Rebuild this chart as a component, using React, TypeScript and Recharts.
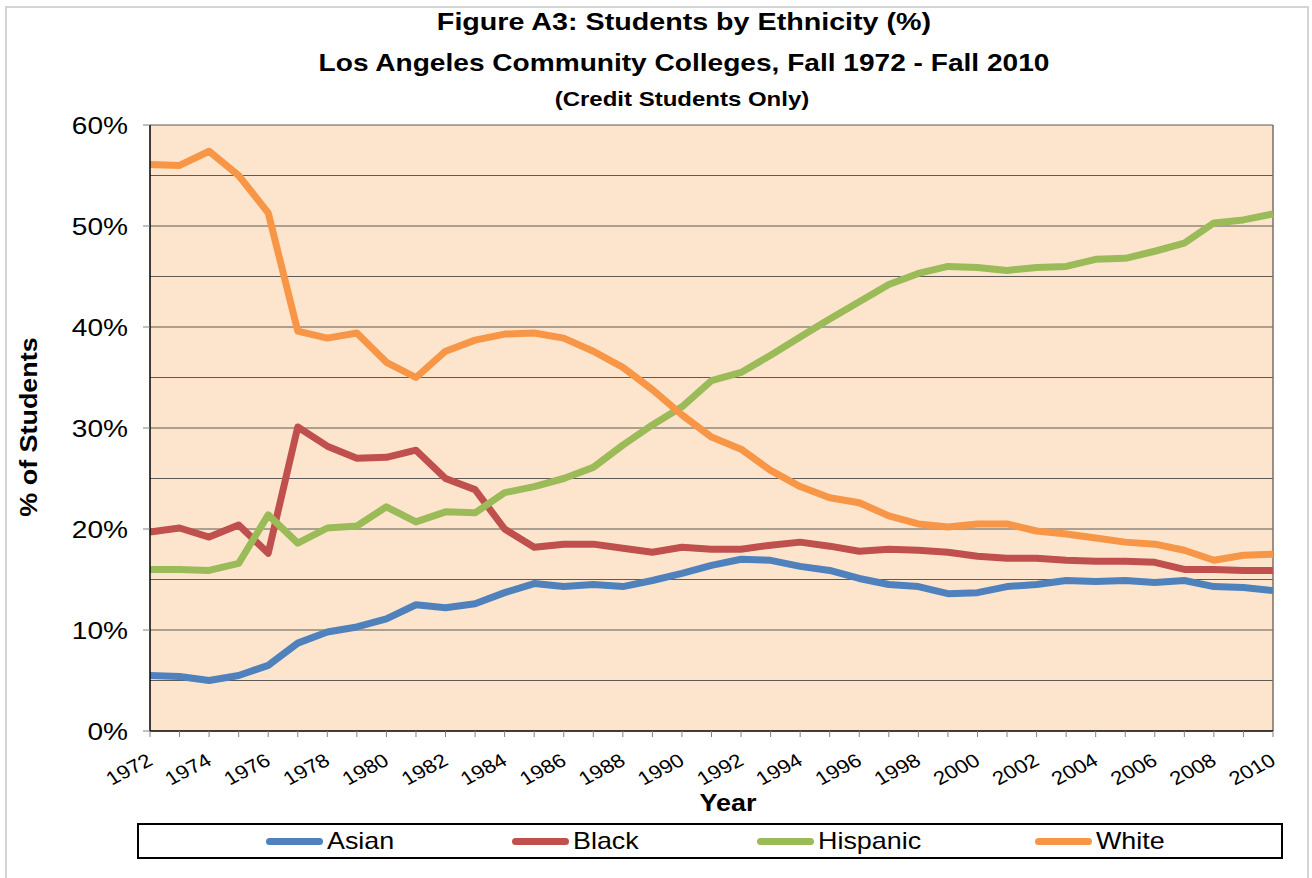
import React from 'react';
import { LineChart, Line, XAxis, YAxis, CartesianGrid, Legend, ReferenceLine } from 'recharts';

const years = ['1972','1973','1974','1975','1976','1977','1978','1979','1980','1981','1982','1983','1984','1985','1986','1987','1988','1989','1990','1991','1992','1993','1994','1995','1996','1997','1998','1999','2000','2001','2002','2003','2004','2005','2006','2007','2008','2009','2010'];
const asian = [5.5,5.4,5.0,5.5,6.5,8.7,9.8,10.3,11.1,12.5,12.2,12.6,13.7,14.6,14.3,14.5,14.3,14.9,15.6,16.4,17.0,16.9,16.3,15.9,15.1,14.5,14.3,13.6,13.7,14.3,14.5,14.9,14.8,14.9,14.7,14.9,14.3,14.2,13.9];
const black = [19.7,20.1,19.2,20.4,17.6,30.1,28.2,27.0,27.1,27.8,25.0,23.9,20.0,18.2,18.5,18.5,18.1,17.7,18.2,18.0,18.0,18.4,18.7,18.3,17.8,18.0,17.9,17.7,17.3,17.1,17.1,16.9,16.8,16.8,16.7,16.0,16.0,15.9,15.9];
const hispanic = [16.0,16.0,15.9,16.6,21.4,18.6,20.1,20.3,22.2,20.7,21.7,21.6,23.6,24.2,25.0,26.1,28.3,30.3,32.1,34.7,35.5,37.2,39.0,40.8,42.5,44.2,45.3,46.0,45.9,45.6,45.9,46.0,46.7,46.8,47.5,48.3,50.3,50.6,51.2];
const white = [56.1,56.0,57.4,55.0,51.3,39.6,38.9,39.4,36.5,35.0,37.6,38.7,39.3,39.4,38.9,37.6,36.0,33.8,31.3,29.1,27.9,25.8,24.2,23.1,22.6,21.3,20.5,20.2,20.5,20.5,19.8,19.5,19.1,18.7,18.5,17.9,16.9,17.4,17.5];
const yTicks = [0, 10, 20, 30, 40, 50, 60];
const gridValues = [5, 10, 15, 20, 25, 30, 35, 40, 45, 50, 55, 60];

const seriesDefs = [
  { key: 'Asian', color: '#4F81BD' },
  { key: 'Black', color: '#C0504D' },
  { key: 'Hispanic', color: '#9BBB59' },
  { key: 'White', color: '#F79646' },
];

const data = years.map((y, i) => ({
  year: y,
  Asian: asian[i],
  Black: black[i],
  Hispanic: hispanic[i],
  White: white[i],
}));

const FONT = '"Liberation Sans", Arial, Helvetica, sans-serif';
const SX = 1.17;

const XTick = (props: any) => {
  const { x, y, payload } = props;
  const yr = Number(payload.value);
  if (yr % 2 !== 0) return <g />;
  const ax = x + 4;
  const ay = y + 27;
  return (
    <text transform={`translate(${ax} ${ay}) scale(${SX} 1) rotate(-31)`} textAnchor="end" fontSize={19} fontFamily={FONT} fill="#000">
      {payload.value}
    </text>
  );
};

const YTick = (props: any) => {
  const { x, y, payload } = props;
  return (
    <text transform={`translate(${x} ${y}) scale(${SX} 1)`} textAnchor="end" dy="0.36em" fontSize={24} fontFamily={FONT} fill="#000">
      {`${payload.value}%`}
    </text>
  );
};

const renderLegend = () => (
  <div style={{
    width: '100%', height: '100%', boxSizing: 'border-box', border: '2px solid #000', paddingLeft: 12,
    display: 'flex', alignItems: 'center', justifyContent: 'center', gap: 117, fontFamily: FONT, background: '#fff',
  }}>
    {seriesDefs.map((s) => (
      <div key={s.key} style={{ display: 'flex', alignItems: 'center' }}>
        <div style={{ width: 57, height: 7, borderRadius: 4, background: s.color, marginRight: 4 }} />
        <span style={{ fontSize: 24, color: '#000', lineHeight: '24px', display: 'inline-block', transform: 'scaleX(1.12)', transformOrigin: 'left center', marginRight: 8 }}>{s.key}</span>
      </div>
    ))}
  </div>
);

const titleBase: React.CSSProperties = {
  position: 'absolute', left: 28, width: 1312, textAlign: 'center', fontWeight: 'bold', color: '#000',
  transform: `scaleX(${SX})`, transformOrigin: '656px 0', whiteSpace: 'nowrap',
};

export default function App() {
  return (
    <div style={{ position: 'absolute', left: 0, top: 0, width: 1312, height: 878, background: '#fff', overflow: 'hidden', fontFamily: FONT }}>
      <div style={{ position: 'absolute', left: 5, top: 6, width: 1300, height: 900, border: '2px solid #d4d4d4' }} />
      <div style={{ position: 'absolute', left: 0, top: 0 }}>
        <LineChart width={1312} height={878} data={data} margin={{ top: 125, right: 39, bottom: 0, left: 0 }}>
          <CartesianGrid fill="#FDE5CD" vertical={false} horizontalValues={gridValues} stroke="#5f5a55" strokeWidth={1} />
          <XAxis dataKey="year" interval={0} height={147} tick={<XTick />} tickSize={6} tickMargin={0}
            axisLine={{ stroke: '#000', strokeWidth: 1.5 }} tickLine={{ stroke: '#808080' }} />
          <YAxis type="number" domain={[0, 60]} ticks={yTicks} width={150} tickSize={7} tickMargin={15}
            axisLine={{ stroke: '#000', strokeWidth: 1.5 }} tickLine={{ stroke: '#808080' }}
            tick={<YTick />} />
          <ReferenceLine x="2010" stroke="#7a6e64" strokeWidth={1.5} />
          {seriesDefs.map((s) => (
            <Line key={s.key} type="linear" dataKey={s.key} stroke={s.color} strokeWidth={7} dot={false}
              strokeLinejoin="round" isAnimationActive={false} />
          ))}
          <Legend layout="horizontal" verticalAlign="middle" align="center" content={renderLegend}
            wrapperStyle={{ left: 137, top: 823, width: 1146, height: 36 }} />
        </LineChart>
      </div>
      <div style={{ ...titleBase, top: 9, fontSize: 24.5, lineHeight: '26px' }}>
        Figure A3: Students by Ethnicity (%)
      </div>
      <div style={{ ...titleBase, top: 49, fontSize: 24, lineHeight: '28px' }}>
        Los Angeles Community Colleges, Fall 1972 - Fall 2010
      </div>
      <div style={{ ...titleBase, left: 26, top: 87, fontSize: 20.5, lineHeight: '24px' }}>
        (Credit Students Only)
      </div>
      <div style={{ position: 'absolute', left: 628, width: 200, top: 790, textAlign: 'center', fontWeight: 'bold', fontSize: 23, lineHeight: '27px', color: '#000', transform: `scaleX(${SX})` }}>
        Year
      </div>
      <div style={{ position: 'absolute', left: 29, top: 427, width: 300, marginLeft: -150, marginTop: -13, textAlign: 'center', fontWeight: 'bold', fontSize: 23, lineHeight: '26px', color: '#000', transform: 'rotate(-90deg) scaleX(1.17)' }}>
        % of Students
      </div>
    </div>
  );
}
